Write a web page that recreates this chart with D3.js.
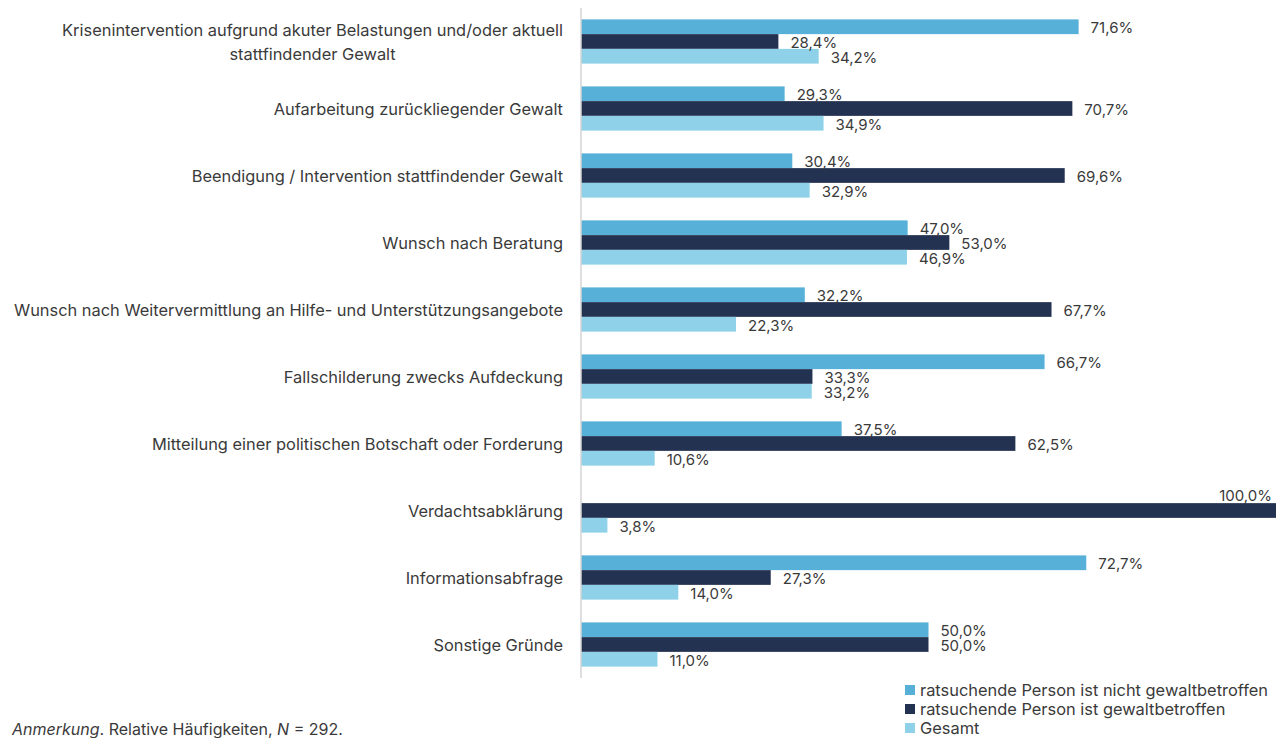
<!DOCTYPE html>
<html>
<head>
<meta charset="utf-8">
<script src="https://cdnjs.cloudflare.com/ajax/libs/d3/7.8.5/d3.min.js"></script>
<style>
  body { margin: 0; background: #fff; }
  text { font-family: Inter, Roboto, "Noto Sans", sans-serif; }
</style>
</head>
<body>
<div id="chart"></div>
<script>
var categories = [
  ["Krisenintervention aufgrund akuter Belastungen und/oder aktuell", "stattfindender Gewalt"],
  ["Aufarbeitung zurückliegender Gewalt"],
  ["Beendigung / Intervention stattfindender Gewalt"],
  ["Wunsch nach Beratung"],
  ["Wunsch nach Weitervermittlung an Hilfe- und Unterstützungsangebote"],
  ["Fallschilderung zwecks Aufdeckung"],
  ["Mitteilung einer politischen Botschaft oder Forderung"],
  ["Verdachtsabklärung"],
  ["Informationsabfrage"],
  ["Sonstige Gründe"]
]
var seriesNames = ["ratsuchende Person ist nicht gewaltbetroffen", "ratsuchende Person ist gewaltbetroffen", "Gesamt"]
var colors = ["#57b0d7", "#243252", "#8ed1e9"]

var nichtBetroffen = [71.6, 29.3, 30.4, 47.0, 32.2, 66.7, 37.5, null, 72.7, 50.0]
var betroffen      = [28.4, 70.7, 69.6, 53.0, 67.7, 33.3, 62.5, 100.0, 27.3, 50.0]
var gesamt         = [34.2, 34.9, 32.9, 46.9, 22.3, 33.2, 10.6, 3.8, 14.0, 11.0]
var values = [nichtBetroffen, betroffen, gesamt]

var width = 1288, height = 738
var textColor = "#3a3a3a"
var labelSize = 16.4

var svg = d3.select("#chart").append("svg")
  .attr("width", width)
  .attr("height", height)

var x = d3.scaleLinear().domain([0, 100]).range([581, 1276])

var y = d3.scaleBand()
  .domain(d3.range(categories.length))
  .range([8, 678])
  .paddingInner(0.34)
  .paddingOuter(0.17)

var ySub = d3.scaleBand()
  .domain(d3.range(3))
  .range([0, y.bandwidth()])

var fmt = function (v) { return d3.format(".1f")(v).replace(".", ",") + "%" }

var rows = []
values.forEach(function (arr, s) {
  arr.forEach(function (v, i) {
    if (v != null) rows.push({ s: s, i: i, v: v })
  })
})

svg.selectAll("rect.bar")
  .data(rows)
  .enter()
  .append("rect")
  .attr("class", "bar")
  .attr("x", x(0))
  .attr("y", d => y(d.i) + ySub(d.s))
  .attr("width", d => x(d.v) - x(0))
  .attr("height", ySub.bandwidth())
  .attr("fill", d => colors[d.s])

// axis line
svg.append("line")
  .attr("x1", x(0))
  .attr("x2", x(0))
  .attr("y1", y.range()[0])
  .attr("y2", y.range()[1])
  .attr("stroke", "#d4d4d4")
  .attr("stroke-width", 1.5)

// value labels
svg.selectAll("text.val")
  .data(rows)
  .enter()
  .append("text")
  .attr("class", "val")
  .text(d => fmt(d.v))
  .attr("x", d => d.v >= 100 ? x(d.v) - 4 : x(d.v) + 12)
  .attr("y", d => d.v >= 100
    ? y(d.i) + ySub(d.s) - 8
    : y(d.i) + ySub(d.s) + ySub.bandwidth() / 2 + 1)
  .attr("dominant-baseline", "central")
  .attr("text-anchor", d => d.v >= 100 ? "end" : "start")
  .attr("font-size", 15)
  .attr("fill", textColor)

// category labels
categories.forEach(function (lines, i) {
  var cy = y(i) + y.bandwidth() / 2
  var g = svg.append("text")
    .attr("font-size", labelSize)
    .attr("fill", textColor)
    .attr("dominant-baseline", "central")
  if (lines.length == 1) {
    g.attr("text-anchor", "end")
      .attr("x", 563)
      .attr("y", cy)
      .text(lines[0])
  } else {
    g.attr("text-anchor", "middle")
    var tmp = svg.append("text").attr("font-size", labelSize).text(lines[0])
    var w = tmp.node().getComputedTextLength()
    tmp.remove()
    lines.forEach(function (l, k) {
      g.append("tspan")
        .attr("x", 563 - w / 2)
        .attr("y", cy + (k - (lines.length - 1) / 2) * 24)
        .text(l)
    })
  }
})

// legend
var legend = svg.selectAll("g.legend")
  .data(seriesNames)
  .enter()
  .append("g")
  .attr("class", "legend")
  .attr("transform", (d, i) => "translate(905," + (690 + i * 19) + ")")

legend.append("rect")
  .attr("x", 0)
  .attr("y", -5)
  .attr("width", 10)
  .attr("height", 10)
  .attr("fill", (d, i) => colors[i])

legend.append("text")
  .text(d => d)
  .attr("x", 15)
  .attr("y", 0)
  .attr("dominant-baseline", "central")
  .attr("font-size", labelSize)
  .attr("fill", textColor)

// note
var note = svg.append("text")
  .attr("x", 12)
  .attr("y", 729)
  .attr("dominant-baseline", "central")
  .attr("font-size", 16)
  .attr("fill", textColor)
note.append("tspan").attr("font-style", "italic").text("Anmerkung")
note.append("tspan").text(". Relative Häufigkeiten, ")
note.append("tspan").attr("font-style", "italic").text("N")
note.append("tspan").text(" = 292.")
</script>
</body>
</html>
